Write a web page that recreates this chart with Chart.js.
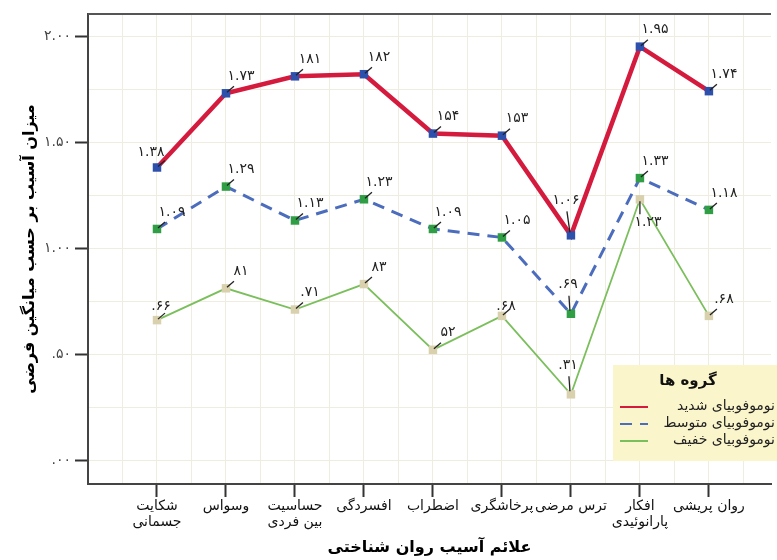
<!DOCTYPE html>
<html>
<head>
<meta charset="utf-8">
<script src="https://cdn.jsdelivr.net/npm/chart.js@4.4.1/dist/chart.umd.min.js"></script>
<style>
  html, body { margin: 0; padding: 0; background: #fff; }
  #wrap { width: 777px; height: 560px; }
</style>
</head>
<body>
<div id="wrap"><canvas id="chart"></canvas></div>
<script>
// categories (two-line labels split with \n)
const categories = ['شکایت\nجسمانی', 'وسواس', 'حساسیت\nبین فردی', 'افسردگی', 'اضطراب', 'پرخاشگری', 'ترس مرضی', 'افکار\nپارانوئیدی', 'روان پریشی'];
const seriesNames = ['نوموفوبیای شدید', 'نوموفوبیای متوسط', 'نوموفوبیای خفیف'];
const severe = [1.38, 1.73, 1.81, 1.82, 1.54, 1.53, 1.06, 1.95, 1.74];
const moderate = [1.09, 1.29, 1.13, 1.23, 1.09, 1.05, 0.69, 1.33, 1.18];
const mild = [0.66, 0.81, 0.71, 0.83, 0.52, 0.68, 0.31, 1.23, 0.68];
// value labels as printed on the original
const severeLabels = ['۱.۳۸', '۱.۷۳', '۱۸۱', '۱۸۲', '۱۵۴', '۱۵۳', '۱.۰۶', '۱.۹۵', '۱.۷۴'];
const moderateLabels = ['۱.۰۹', '۱.۲۹', '۱.۱۳', '۱.۲۳', '۱.۰۹', '۱.۰۵', '.۶۹', '۱.۳۳', '۱.۱۸'];
const mildLabels = ['.۶۶', '۸۱', '.۷۱', '۸۳', '۵۲', '.۶۸', '.۳۱', '۱.۲۳', '.۶۸'];
const yTickValues = [0, 0.5, 1, 1.5, 2];
const yTickLabels = ['.۰۰', '.۵۰', '۱.۰۰', '۱.۵۰', '۲.۰۰'];
const xTitle = 'علائم آسیب روان شناختی';
const yTitle = 'میزان آسیب بر حسب میانگین فرضی';
const legendTitle = 'گروه ها';

const FONT = "'DejaVu Sans', sans-serif";
const allLabels = [severeLabels, moderateLabels, mildLabels];

// label placement: [dx, dy, leader style], default is up-right
const nudges = {
  '0-0': [-6, -15, 'ur'], '2-0': [4, -14, 'ur'], '2-5': [4, -10, 'ur'],
  '0-6': [-5, -35, 'v'], '1-6': [-3, -29, 'v'], '2-6': [-3, -29, 'v'],
  '2-7': [8, 23, 'down']
};

const toPoints = arr => arr.map((v, i) => ({ x: i, y: v }));

const valueLabels = {
  id: 'valueLabels',
  afterDatasetsDraw(chart) {
    const ctx = chart.ctx;
    ctx.save();
    ctx.font = '14px ' + FONT;
    ctx.fillStyle = '#222';
    ctx.strokeStyle = '#222';
    ctx.lineWidth = 1.3;
    ctx.textAlign = 'center';
    ctx.textBaseline = 'middle';
    chart.data.datasets.forEach((ds, d) => {
      chart.getDatasetMeta(d).data.forEach((pt, i) => {
        const n = nudges[d + '-' + i] || [15, -17, 'ur'];
        const lx = pt.x + n[0], ly = pt.y + n[1];
        ctx.beginPath();
        if (n[2] === 'v') {
          ctx.moveTo(pt.x - 1, pt.y - 3);
          ctx.lineTo(lx + 1, ly + 11);
        } else if (n[2] === 'down') {
          ctx.moveTo(pt.x, pt.y + 2);
          ctx.lineTo(pt.x, pt.y + 15);
        } else {
          ctx.moveTo(pt.x + 1, pt.y - 1);
          ctx.lineTo(pt.x + 8, pt.y - 7);
        }
        ctx.stroke();
        ctx.fillText(allLabels[d][i], lx, ly);
      });
    });
    ctx.restore();
  }
};

const frameAndLegend = {
  id: 'frameAndLegend',
  beforeDatasetsDraw(chart) {
    const { ctx, chartArea } = chart;
    ctx.save();
    ctx.strokeStyle = '#555';
    ctx.lineWidth = 2;
    ctx.beginPath();
    ctx.moveTo(chartArea.left, chartArea.top);
    ctx.lineTo(chartArea.right, chartArea.top);
    ctx.stroke();
    ctx.restore();
  },
  afterDraw(chart) {
    const ctx = chart.ctx;
    ctx.save();
    ctx.fillStyle = '#fbf5cb';
    ctx.fillRect(613, 365, 170, 96);
    ctx.fillStyle = '#111';
    ctx.textBaseline = 'middle';
    ctx.textAlign = 'center';
    ctx.font = 'bold 15px ' + FONT;
    ctx.fillText(legendTitle, 688, 381);
    ctx.font = '14px ' + FONT;
    ctx.textAlign = 'right';
    chart.data.datasets.forEach((ds, d) => {
      const y = 406 + d * 17;
      ctx.fillStyle = '#222';
      ctx.fillText(ds.label, 775, y);
      ctx.strokeStyle = ds.borderColor;
      ctx.lineWidth = 2;
      ctx.setLineDash(ds.borderDash || []);
      ctx.beginPath();
      ctx.moveTo(620, y + 1);
      ctx.lineTo(648, y + 1);
      ctx.stroke();
      ctx.setLineDash([]);
    });
    ctx.restore();
  }
};

const gridColor = '#efede0';

new Chart(document.getElementById('chart'), {
  type: 'line',
  data: {
    datasets: [
      {
        label: seriesNames[0], data: toPoints(severe),
        borderColor: '#d41b3e', borderWidth: 4.5,
        pointStyle: 'rect', pointRadius: 6, pointBackgroundColor: '#2e50ad', pointBorderColor: '#2e50ad', pointBorderWidth: 0
      },
      {
        label: seriesNames[1], data: toPoints(moderate),
        borderColor: '#4c6dbd', borderWidth: 3, borderDash: [12, 8],
        pointStyle: 'rect', pointRadius: 6, pointBackgroundColor: '#2f9e44', pointBorderColor: '#2f9e44', pointBorderWidth: 0
      },
      {
        label: seriesNames[2], data: toPoints(mild),
        borderColor: '#7bbf5c', borderWidth: 1.8,
        pointStyle: 'rect', pointRadius: 6, pointBackgroundColor: '#d9d1ae', pointBorderColor: '#d9d1ae', pointBorderWidth: 0
      }
    ]
  },
  options: {
    responsive: true,
    maintainAspectRatio: false,
    animation: false,
    layout: { padding: { top: 14, right: 0, left: 0, bottom: 0 } },
    plugins: { legend: { display: false }, tooltip: { enabled: false } },
    scales: {
      x: {
        type: 'linear', min: -1, max: 8.9,
        afterBuildTicks: s => {
          const t = [];
          for (let v = -0.5; v <= 8.5; v += 0.5) t.push({ value: v });
          s.ticks = t;
        },
        afterFit: s => { s.height = 76; },
        grid: {
          color: gridColor, lineWidth: 1, tickLength: 13, tickWidth: 2,
          tickColor: c => Number.isInteger(c.tick.value) ? '#333' : 'transparent'
        },
        border: { color: '#444', width: 2 },
        ticks: {
          autoSkip: false, maxRotation: 0, padding: 1,
          color: '#111', font: { family: FONT, size: 14, lineHeight: 1.15 },
          callback: v => Number.isInteger(v) && categories[v] ? categories[v].split('\n') : ''
        },
        title: { display: true, text: xTitle, color: '#000', font: { family: FONT, size: 16, weight: 'bold' }, padding: { top: 0, bottom: 3 } }
      },
      y: {
        min: -0.113, max: 2.104,
        afterBuildTicks: s => {
          const t = [];
          for (let v = 0; v <= 2; v += 0.25) t.push({ value: v });
          s.ticks = t;
        },
        afterFit: s => { s.width = 88; },
        grid: {
          color: gridColor, lineWidth: 1, tickLength: 13, tickWidth: 2,
          tickColor: c => yTickValues.includes(c.tick.value) ? '#333' : 'transparent'
        },
        border: { color: '#444', width: 2 },
        ticks: {
          padding: 4, color: '#444', font: { family: FONT, size: 14 },
          callback: v => {
            const k = yTickValues.indexOf(v);
            return k >= 0 ? yTickLabels[k] : '';
          }
        },
        title: { display: true, text: yTitle, color: '#000', font: { family: FONT, size: 16, weight: 'bold' }, padding: { top: 20, bottom: 0 } }
      }
    }
  },
  plugins: [valueLabels, frameAndLegend]
});
</script>
</body>
</html>
